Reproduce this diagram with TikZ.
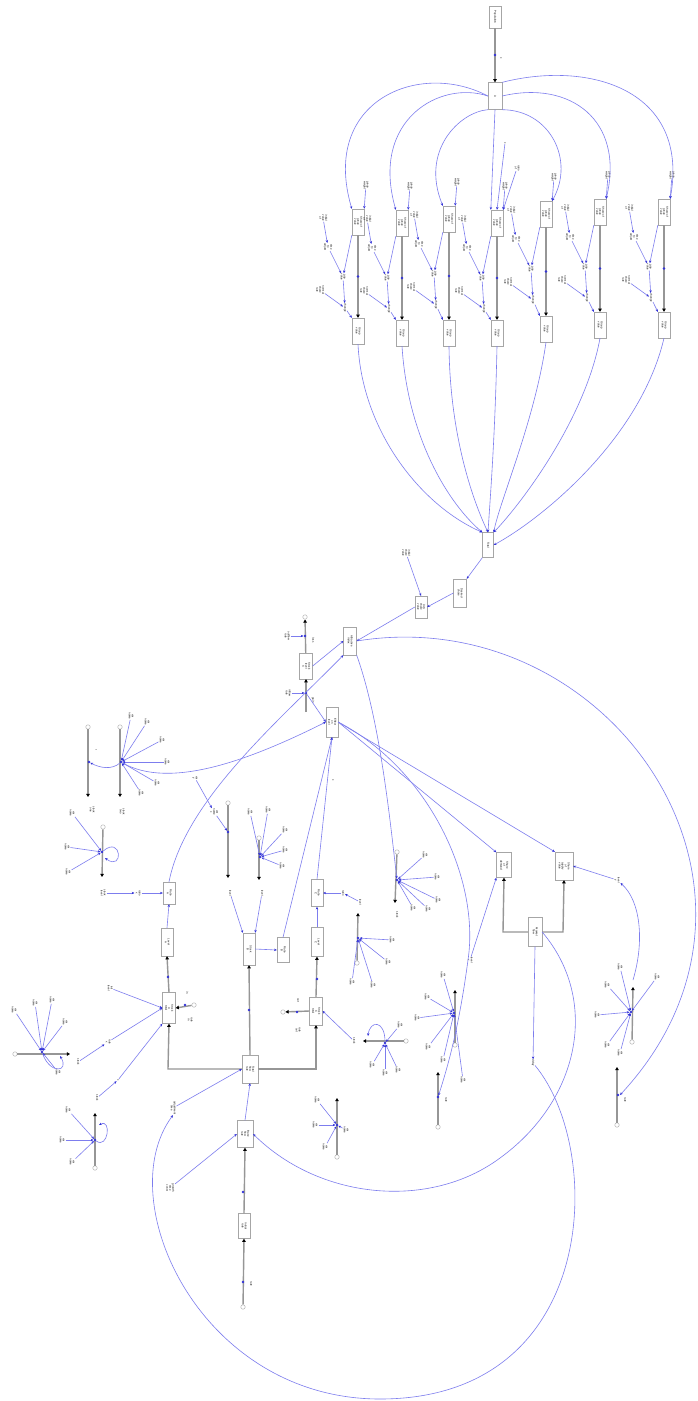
\documentclass[tikz,border=0pt]{standalone}
\usepackage{fontspec}
\setmainfont{Liberation Sans}
\usetikzlibrary{arrows.meta}
\definecolor{lnk}{RGB}{125,125,238}
\definecolor{lnkd}{RGB}{50,50,215}
\definecolor{pipec}{RGB}{150,150,150}
\newcommand{\rt}[1]{\rotatebox{-90}{\begin{tabular}{@{}c@{}}#1\end{tabular}}}
\tikzset{
  bx/.style={draw=gray!70, line width=0.35pt, fill=white, minimum width=12pt, minimum height=26pt, inner sep=0.3pt, font=\fontsize{2.7}{3.0}\selectfont},
  lb/.style={inner sep=0.3pt, font=\fontsize{2.7}{3.0}\selectfont},
  bl/.style={draw=lnk, line width=0.6pt, -{Stealth[length=2.8pt,width=2.4pt,color=lnkd]}},
  bln/.style={draw=lnk, line width=0.6pt},
  pipe/.style={draw=pipec, line width=1.4pt, -{Triangle[length=3.2pt,width=3.6pt,color=black]}},
  pipen/.style={draw=pipec, line width=1.4pt},
  cld/.style={circle, draw=gray!70, line width=0.4pt, fill=white, minimum size=4.5pt, inner sep=0},
  vlv/.style={circle, fill=lnkd, minimum size=2.6pt, inner sep=0},
}
\begin{document}
\begin{tikzpicture}[x=1pt,y=-1pt]
\useasboundingbox (0,0) rectangle (698,1401);
\fill[white] (0,0) rectangle (698,1401);

% ================= TOP =================
\node[bx,minimum height=22pt] (B0) at (495,17) {\rt{Population}};
\node[bx,minimum width=14pt,minimum height=27pt] (B1) at (495,96) {\rt{A}};
\draw[pipe] (B0) -- (B1);
\node[vlv] (v0) at (495,55) {};
\node[lb] at (501,58) {\rt{x}};

\foreach \i/\X/\Uy/\Ly in {1/358/222/331, 2/402/223/333, 3/449/219/333, 4/497/223/333, 5/546/214/329, 6/600/212/325, 7/664/212/325}{
  \node[bx] (U\i) at (\X,\Uy) {\rt{Share of\\group\\value}};
  \node[bx] (L\i) at (\X,\Ly) {\rt{Group\\value}};
  \draw[pipe] (U\i) -- (L\i);
  \node[vlv] at (\X,{(\Uy+\Ly)/2}) {};
  \node[lb] (t\i) at ({\X+8},{\Uy-37}) {\rt{group\\weight}};
  \draw[bl] (t\i) -- (U\i.north east);
  \node[lb] (a1\i) at ({\X-35},{\Uy-4}) {\rt{initial\\value\\of}};
  \node[lb] (a2\i) at ({\X-30},{\Uy+25}) {\rt{time\\to\\adjust}};
  \node[lb] (a3\i) at ({\X-15},{\Uy+55}) {\rt{gap\\value}};
  \node[lb] (a4\i) at ({\X-38},{\Uy+68}) {\rt{normal\\share\\rate}};
  \node[lb] (a5\i) at ({\X-13},{\Uy+86}) {\rt{change}};
  \draw[bl] (a1\i) -- (a2\i);
  \draw[bl] (U\i.south west) -- (a3\i);
  \draw[bl] (a2\i) -- (a3\i);
  \draw[bl] (a4\i) -- (a5\i);
  \draw[bl] (a3\i) -- (a5\i);
  \draw[bl] (a5\i) -- (L\i.north west);
}
\node[lb] (x41) at (505,143) {\rt{x}};
\node[lb] (x42) at (517,168) {\rt{ratio\\of}};
\draw[bl] (x41) -- (U4.north); \draw[bl] (x42) -- (U4.north east);

% arcs from B1
\draw[bl] (B1.west) .. controls (420,60) and (320,100) .. (U1.north west);
\draw[bl] (B1.west) .. controls (440,80) and (370,120) .. (U2.north west);
\draw[bl] (B1.south west) .. controls (460,112) and (420,150) .. (U3.north west);
\draw[bl] (B1.south) -- (U4.north west);
\draw[bl] (B1.south east) .. controls (550,110) and (575,160) .. (U5.north east);
\draw[bl] (B1.east) .. controls (570,80) and (625,120) .. (U6.north east);
\draw[bl] (B1.north east) .. controls (590,60) and (690,90) .. (U7.north east);

% total
\node[bx,minimum width=11pt,minimum height=25pt] (T) at (488,545) {\rt{Total}};
\draw[bl] (L1.south) .. controls (362,430) and (420,505) .. (T.north west);
\draw[bl] (L2.south) .. controls (408,440) and (450,505) .. (T.north west);
\draw[bl] (L3.south) .. controls (450,440) and (475,505) .. (T.north);
\draw[bl] (L4.south) .. controls (495,440) and (490,500) .. (T.north);
\draw[bl] (L5.south) .. controls (535,420) and (500,500) .. (T.north east);
\draw[bl] (L6.south) .. controls (585,420) and (520,505) .. (T.north east);
\draw[bl] (L7.south) .. controls (640,440) and (540,520) .. (T.east);

% ================= CHAIN =================
\node[bx,minimum width=13pt,minimum height=28pt] (C1) at (460,593) {\rt{Desired\\share}};
\node[bx,minimum width=12pt,minimum height=22pt] (C2) at (421,607) {\rt{Avg\\share\\value}};
\node[lb] (L0) at (406,553) {\rt{initial\\share\\value}};
\node[bx,minimum width=13pt,minimum height=28pt] (C3) at (350,641) {\rt{Attractive\\index}};
\node[bx,minimum width=13pt,minimum height=26pt] (F1) at (306,666) {\rt{Stock\\level\\X}};
\node[cld] (cF) at (305,617) {};
\coordinate (pF) at (306,712);
\draw[pipe] (F1) -- (cF);
\draw[pipen] (pF) -- (F1.south);
\draw[-{Triangle[length=3.2pt,width=3.6pt,color=black]},draw=pipec,line width=1.4pt] (306,690) -- (F1.south);
\node[vlv] (vFa) at (305,636) {};
\node[vlv] (vFb) at (306,693) {};
\node[lb] (lFa) at (287,636) {\rt{outflow\\rate}};
\node[lb] (lFb) at (288,693) {\rt{inflow\\rate}};
\node[lb] at (313,640) {\rt{loss}};
\node[lb] at (313,700) {\rt{gain}};
\draw[bl] (lFa) -- (vFa); \draw[bl] (lFb) -- (vFb);
\draw[bl] (T.south west) -- (C1.north east);
\draw[bl] (C1.west) -- (C2.east);
\draw[bl] (L0) -- (C2.north);
\draw[bl] (C2.west) -- (C3.east);
\draw[bl] (F1.east) -- (C3.west);
\node[bx,minimum width=12pt,minimum height=30pt] (C4) at (332,722) {\rt{Effect\\on\\level}};
\draw[bl] (vFb) -- (C4.west);
\node[lb] at (333,780) {\rt{x}};

% big arc right
\draw[bl] (C3.east) .. controls (610,600) and (810,890) .. (620,1095);

% ================= LEFT CLUSTERS =================
\node[cld] (cK0) at (88,727) {}; \draw[pipe] (cK0) -- (88,797);
\node[vlv] (K0) at (89,762) {};
\node[cld] (cK1) at (120,727) {}; \draw[pipe] (cK1) -- (120,797);
\node[vlv] (K1) at (121,762) {};
\foreach \a/\b in {131/716, 147/722, 162/740, 167/762, 157/783, 141/793}{
  \node[lb] (k) at (\a,\b) {\rt{var\\name}}; \draw[bl] (k) -- (K1);}
\draw[bl] (K1) .. controls (112,770) and (100,768) .. (K0);
\node[lb] at (92,810) {\rt{stock\\one}};
\node[lb] at (122,812) {\rt{stock\\two}};
\node[lb] at (96,750) {\rt{r}};
\node[cld] (cK2) at (103,827) {}; \draw[pipe] (cK2) -- (102,877);
\node[vlv] (K2) at (102,852) {};
\foreach \a/\b in {72/813, 67/847, 68/872}{
  \node[lb] (k) at (\a,\b) {\rt{var\\name}}; \draw[bl] (k) -- (K2);}
\draw[bl] (K2) .. controls (122,835) and (124,872) .. (105,858);
\node[lb] (sK2) at (103,893) {\rt{stock\\level}};
\node[lb] (sK2b) at (138,893) {\rt{ratio\\x}};
\draw[bl] (sK2) -- (sK2b);
\draw[bl] (K1) .. controls (170,790) and (250,760) .. (C4.west);

\node[cld] (cK3) at (15,1054) {}; \draw[pipe] (cK3) -- (70,1054);
\node[vlv] (K3) at (42,1052) {};
\foreach \a/\b in {14/1010, 35/1003, 52/1000, 65/1022, 58/1072}{
  \node[lb] (k) at (\a,\b) {\rt{var\\name}}; \draw[bl] (k) -- (K3);}
\draw[bl] (K3) .. controls (50,1075) and (70,1072) .. (60,1056);
\node[lb] (sK3) at (78,1062) {\rt{stock}};
\node[lb] (sK3b) at (108,1042) {\rt{rate\\x}};
\draw[bl] (sK3) -- (sK3b);
\node[cld] (cK4) at (95,1168) {}; \draw[pipe] (cK4) -- (95,1113);
\node[vlv] (K4) at (95,1140) {};
\foreach \a/\b in {68/1110, 62/1140, 72/1162}{
  \node[lb] (k) at (\a,\b) {\rt{var\\name}}; \draw[bl] (k) -- (K4);}
\draw[bl] (K4) .. controls (108,1150) and (112,1118) .. (99,1125);
\node[lb] (sK4) at (97,1098) {\rt{stock}};
\node[lb] (sK4b) at (118,1080) {\rt{x}};
\draw[bl] (sK4) -- (sK4b);

% ================= MIDDLE LEFT STRUCTURE =================
\node[bx,minimum width=12pt,minimum height=22pt] (D1) at (169,893) {\rt{Ratio\\A}};
\node[bx,minimum width=12pt,minimum height=28pt] (D2) at (167,942) {\rt{Level\\A}};
\node[bx,minimum width=13pt,minimum height=31pt] (S1) at (169,1008) {\rt{Stock\\A\\total}};
\node[bx,minimum width=12pt,minimum height=32pt] (S2) at (249,949) {\rt{Stock\\B}};
\node[bx,minimum width=12pt,minimum height=25pt] (D3) at (283,950) {\rt{Ratio\\B}};
\node[bx,minimum width=12pt,minimum height=29pt] (S3) at (317,942) {\rt{Level\\C}};
\node[bx,minimum width=12pt,minimum height=27pt] (D4) at (317,893) {\rt{Ratio\\C}};
\node[bx,minimum width=13pt,minimum height=28pt] (S4) at (316,1011) {\rt{Stock\\C\\total}};
\node[bx,minimum width=16pt,minimum height=28pt] (M) at (250,1069) {\rt{Total\\flow\\rate}};
\node[bx,minimum width=16pt,minimum height=27pt] (N) at (245,1134) {\rt{Base\\flow\\rate}};
\node[bx,minimum width=12pt,minimum height=25pt] (N2) at (244,1226) {\rt{Initial\\rate}};

\draw[pipe] (M.west) -- (168,1069) -- (S1.south);
\draw[pipe] (M.east) -- (316,1069) -- (S4.south);
\draw[pipe] (M.north) -- (S2.south);
\draw[pipe] (S1.north) -- (D2.south);
\draw[pipe] (S4.north) -- (S3.south);
\node[vlv] at (168,977) {}; \node[vlv] at (317,979) {}; \node[vlv] at (249,1010) {};
\node[cld] (cS1) at (194,1005) {}; \draw[pipe] (cS1) -- (S1.east); \node[vlv] at (185,1005) {};
\node[lb] at (187,993) {\rt{in}}; \node[lb] at (190,1020) {\rt{rate\\in}};
\node[cld] (cS4) at (283,1012) {}; \draw[pipe] (S4.west) -- (cS4); \node[vlv] at (297,1012) {};
\node[lb] at (298,1000) {\rt{out}}; \node[lb] at (298,1030) {\rt{rate\\out}};
\node[cld] (cN2) at (243,1307) {}; \draw[pipe] (cN2) -- (N2.south); \node[vlv] at (243,1282) {};
\node[lb] at (251,1284) {\rt{rate}};
\draw[pipe] (N2.north) -- (N.south); \node[vlv] at (243,1192) {};
\node[lb] (lN) at (170,1188) {\rt{growth\\time\\const}};
\draw[bl] (lN) -- (N.west);
\draw[bl] (N.north) -- (M.south);
\node[lb] (Q) at (173,1108) {\rt{adjustment\\time}};
\draw[bl] (Q) -- (M.west);
\draw[bl] (D2.north) -- (D1.south);
\draw[bl] (S3.north) -- (D4.south);
\draw[bl] (S2.east) -- (D3.west);
\draw[bl] (D3.north) -- (C4.south);
\draw[bl] (D4.north) -- (C4.south);
\draw[bl] (sK2b) -- (D1.west);
\draw[bl] (sK3b) -- (S1.west);
\draw[bl] (sK4b) -- (S1.south west);
\node[lb] (lS1) at (110,988) {\rt{init\\level}};
\draw[bl] (lS1) -- (S1.west);
\draw[bl] (D1.north) .. controls (185,800) and (280,720) .. (C3.south west);

\node[cld] (cK5) at (259,838) {}; \draw[pipe] (cK5) -- (259,880);
\node[vlv] (K5) at (260,857) {};
\foreach \a/\b in {250/812, 268/810, 285/830, 285/850, 282/866}{
  \node[lb] (k) at (\a,\b) {\rt{var\\name}}; \draw[bl] (k) -- (K5);}
\node[lb] (sK5) at (262,893) {\rt{level}};
\draw[bl] (sK5) -- (S2.north east);
\node[cld] (cK6) at (228,803) {}; \draw[pipe] (cK6) -- (228,878);
\node[vlv] (K6) at (228,832) {};
\node[lb] (k6a) at (214,812) {\rt{var\\name\\x}}; \draw[bl] (k6a) -- (K6);
\node[lb] (k6b) at (195,778) {\rt{var\\y}}; \draw[bl] (k6b) -- (k6a);
\node[lb] (sK6) at (230,893) {\rt{level}};
\draw[bl] (sK6) -- (S2.north west);

\node[cld] (cK7) at (397,852) {}; \draw[pipe] (cK7) -- (395,903);
\node[vlv] (K7) at (397,880) {};
\foreach \a/\b in {425/855, 437/877, 438/900, 428/909, 413/908}{
  \node[lb] (k) at (\a,\b) {\rt{var\\name}}; \draw[bl] (k) -- (K7);}
\node[lb] at (397,915) {\rt{stock}};
\node[cld] (cK8) at (357,963) {}; \draw[pipe] (cK8) -- (358,913);
\node[vlv] (K8) at (358,938) {};
\foreach \a/\b in {392/940, 388/962, 373/985, 352/982}{
  \node[lb] (k) at (\a,\b) {\rt{var\\name}}; \draw[bl] (k) -- (K8);}
\node[lb] (sK8) at (360,902) {\rt{level}};
\node[lb] (sK8b) at (343,893) {\rt{ratio}};
\draw[bl] (sK8) -- (sK8b); \draw[bl] (sK8b) -- (D4.east);

\node[cld] (cK9) at (406,1041) {}; \draw[pipe] (cK9) -- (363,1041);
\node[vlv] (K9) at (385,1043) {};
\foreach \a/\b in {372/1065, 385/1073, 398/1070, 400/1025}{
  \node[lb] (k) at (\a,\b) {\rt{var\\name}}; \draw[bl] (k) -- (K9);}
\draw[bl] (K9) .. controls (385,1020) and (370,1020) .. (368,1036);
\node[lb] (sK9) at (354,1041) {\rt{stock}};
\draw[bl] (sK9) -- (S4.east);
\node[cld] (cK10) at (455,1045) {}; \draw[pipe] (cK10) -- (455,990);
\node[vlv] (K10) at (454,1013) {};
\foreach \a/\b in {443/975, 427/997, 417/1018, 428/1047, 443/1060, 463/1080}{
  \node[lb] (k) at (\a,\b) {\rt{var\\name}}; \draw[bl] (k) -- (K10);}
\node[lb] (sK10) at (470,960) {\rt{level\\x}};

\node[cld] (cK11) at (632,1042) {}; \draw[pipe] (cK11) -- (633,987);
\node[vlv] (K11) at (631,1012) {};
\foreach \a/\b in {620/967, 607/985, 597/1015, 607/1045, 620/1053, 657/977}{
  \node[lb] (k) at (\a,\b) {\rt{var\\name}}; \draw[bl] (k) -- (K11);}
\node[lb] (sK11) at (617,880) {\rt{level\\y}};
\draw[bl] (633,980) .. controls (645,940) and (640,900) .. (sK11);

\node[cld] (cK12) at (337,1157) {}; \draw[pipe] (cK12) -- (337,1098);
\node[vlv] (K12) at (337,1125) {};
\foreach \a/\b in {317/1100, 315/1125, 325/1147, 346/1130}{
  \node[lb] (k) at (\a,\b) {\rt{var\\name}}; \draw[bl] (k) -- (K12);}

\node[cld] (cP1) at (438,1127) {}; \draw[pipe] (cP1) -- (438,1072); \node[vlv] (P1) at (438,1097) {};
\node[lb] at (446,1100) {\rt{rate}};
\node[cld] (cP2) at (617,1125) {}; \draw[pipe] (cP2) -- (617,1067); \node[vlv] (P2) at (618,1095) {};
\node[lb] at (625,1100) {\rt{rate}};

\node[bx,minimum width=15pt,minimum height=25pt] (R1) at (504,865) {\rt{Share\\of\\demand}};
\node[bx,minimum width=18pt,minimum height=28pt] (R2) at (564,866) {\rt{Share\\of\\supply\\value}};
\node[bx,minimum width=14pt,minimum height=29pt] (R3) at (535,932) {\rt{Market\\flow}};
\draw[pipe] (R3.west) -- (503,932) -- (R1.south);
\draw[pipe] (R3.east) -- (563,932) -- (R2.south);
\draw[bl] (sK10) -- (R1.south west);
\draw[bl] (sK11) -- (R2.east);
\node[lb] (P) at (533,1063) {\rt{delay}};
\draw[bl] (R3.south) -- (P);

\draw[bl] (C4.east) -- (R1.north west);
\draw[bl] (C4.east) -- (R2.north west);
\draw[bl] (C4.east) .. controls (430,770) and (480,880) .. (468,960) .. controls (460,1020) and (450,1060) .. (P1);
\draw[bl] (C3.south east) .. controls (380,720) and (390,820) .. (K7);

% loops
\draw[bl] (P) .. controls (605,1150) and (600,1399) .. (380,1399) .. controls (200,1399) and (110,1200) .. (Q.south);
\draw[bl] (R3.east) .. controls (600,1000) and (580,1100) .. (500,1158) .. controls (430,1210) and (320,1200) .. (N.east);
\end{tikzpicture}
\end{document}
